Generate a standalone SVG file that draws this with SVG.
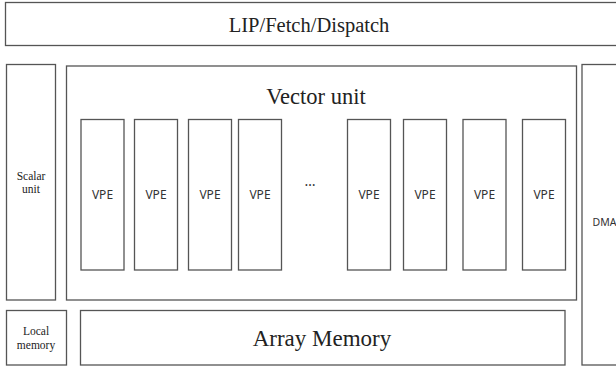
<svg xmlns="http://www.w3.org/2000/svg" width="616" height="367" viewBox="0 0 616 367">
<style>
rect{fill:#fff;stroke:#555;stroke-width:1.3}
.serif{font-family:"Liberation Serif","Times New Roman",serif;fill:#222;text-anchor:middle}
.sans{font-family:"Noto Sans","Liberation Sans",sans-serif;fill:#333;text-anchor:middle}
.vpe{font-size:12px}
</style>
<rect x="0" y="0" width="616" height="367" style="stroke:none"/>
<g id="lip"><rect x="5.5" y="2.5" width="620" height="43"/><text class="serif" x="309" y="32" font-size="20.5">LIP/Fetch/Dispatch</text></g>
<g id="scalar"><rect x="6.5" y="64.5" width="49" height="235.5"/><text class="serif" x="31" y="179.5" font-size="11.5">Scalar</text><text class="serif" x="31" y="192.5" font-size="11.5">unit</text></g>
<g id="vector"><rect x="66.5" y="66" width="510" height="234"/><text class="serif" x="316" y="103.5" font-size="22.5">Vector unit</text></g>
<g id="vpe1"><rect x="81" y="119.5" width="43" height="150.5"/><text class="sans vpe" x="102.5" y="199">VPE</text></g>
<g id="vpe2"><rect x="134.5" y="119.5" width="43" height="150.5"/><text class="sans vpe" x="156" y="199">VPE</text></g>
<g id="vpe3"><rect x="188.5" y="119.5" width="43" height="150.5"/><text class="sans vpe" x="210" y="199">VPE</text></g>
<g id="vpe4"><rect x="238.5" y="119.5" width="43" height="150.5"/><text class="sans vpe" x="260" y="199">VPE</text></g>
<g id="dots"><text class="sans" x="310" y="186" font-size="14">…</text></g>
<g id="vpe5"><rect x="347.5" y="119.5" width="43" height="150.5"/><text class="sans vpe" x="369" y="199">VPE</text></g>
<g id="vpe6"><rect x="403.5" y="119.5" width="43" height="150.5"/><text class="sans vpe" x="425" y="199">VPE</text></g>
<g id="vpe7"><rect x="463" y="119.5" width="43" height="150.5"/><text class="sans vpe" x="484.5" y="199">VPE</text></g>
<g id="vpe8"><rect x="522.5" y="119.5" width="43" height="150.5"/><text class="sans vpe" x="544" y="199">VPE</text></g>
<g id="dma"><rect x="582" y="64.5" width="40" height="300.5"/><text class="sans" x="592.5" y="226" font-size="10.5" style="text-anchor:start">DMA</text></g>
<g id="local"><rect x="6.5" y="310.5" width="60" height="54.5"/><text class="serif" x="36" y="335" font-size="11.5">Local</text><text class="serif" x="36" y="348.5" font-size="11.5">memory</text></g>
<g id="array"><rect x="80.5" y="310.5" width="484.5" height="54.5"/><text class="serif" x="322" y="345.5" font-size="23">Array Memory</text></g>
<g id="connectors"></g>
</svg>
